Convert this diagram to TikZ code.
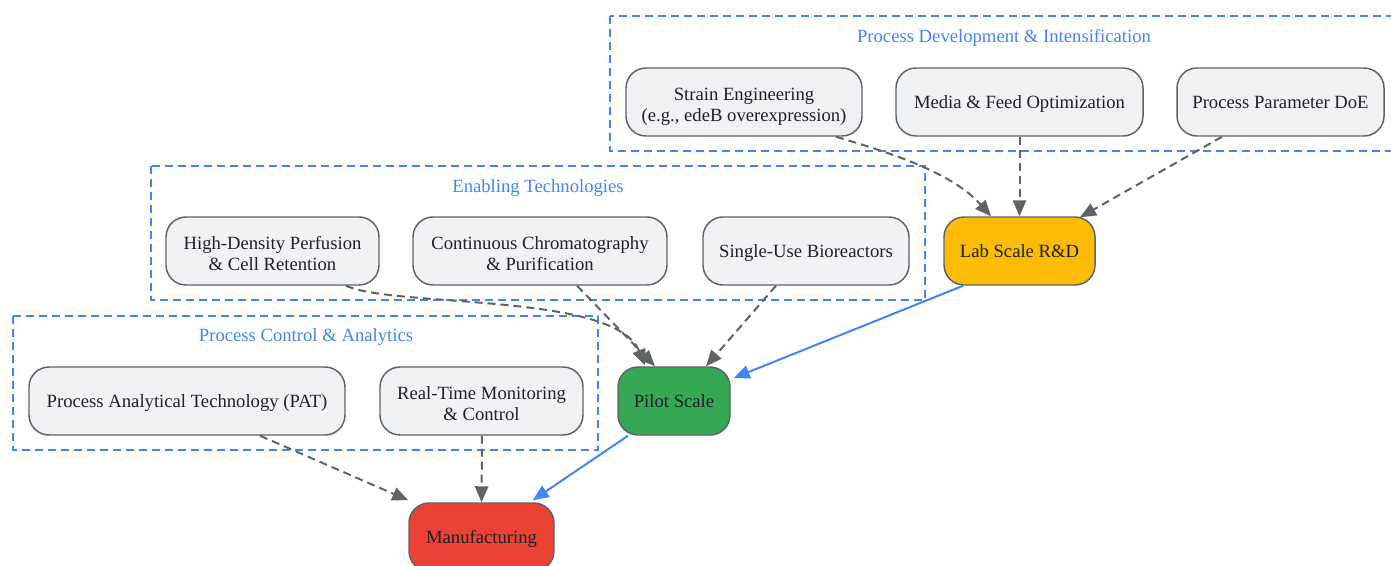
\documentclass[tikz,border=0pt]{standalone}
\usepackage{fontspec}
\setmainfont{Liberation Serif}
\usetikzlibrary{arrows.meta,calc}
\definecolor{nodefill}{HTML}{F1F2F4}
\definecolor{nodeline}{HTML}{5F6368}
\definecolor{gblue}{HTML}{4285F4}
\definecolor{gyellow}{HTML}{FBBC04}
\definecolor{ggreen}{HTML}{34A853}
\definecolor{gred}{HTML}{EA4335}
\definecolor{txt}{HTML}{202124}
\newcommand{\myfirststrut}{\rule{0pt}{16pt}}
\tikzset{
  struts/.style={execute at begin node={\rule{0pt}{13.1pt}},
    execute at end node={\rule[-3.1pt]{0pt}{0pt}}},
  box/.style={draw=nodeline, line width=1.1pt, fill=nodefill, rounded corners=15pt,
    minimum height=51pt, inner sep=2pt, align=center, text=txt, struts,
    font=\fontsize{14pt}{15.75pt}\selectfont},
  cluster/.style={draw=gblue, line width=1.1pt, dash pattern=on 6pt off 3.75pt},
  ctitle/.style={text=gblue, struts, font=\fontsize{14pt}{15.75pt}\selectfont},
  dep/.style={draw=nodeline, line width=1.5pt, dash pattern=on 6pt off 3.75pt,
    -{Triangle[length=12pt,width=10pt]}},
  flow/.style={draw=gblue, line width=1.5pt, -{Triangle[length=12pt,width=10pt]}},
}
\begin{document}
\begin{tikzpicture}[x=0.75pt,y=-0.75pt]
\useasboundingbox (0,0) rectangle (1391,565);
\clip (0,0) rectangle (1391,565);
% clusters
\draw[cluster] (610,16) rectangle (1400,151);
\node[ctitle] (t1) at (1004,36) {Process Development \& Intensification};
\draw[cluster] (151,166) rectangle (925,300);
\node[ctitle] (t2) at (538,186) {Enabling Technologies};
\draw[cluster] (13,316) rectangle (598,450);
\node[ctitle] (t3) at (306,335) {Process Control \& Analytics};
% nodes
\node[box, minimum width=177pt] (se) at (744,102) {\myfirststrut Strain Engineering\\(e.g., edeB overexpression)};
\node[box, minimum width=185.25pt] (mf) at (1019.5,102) {Media \& Feed Optimization};
\node[box, minimum width=155.25pt] (doe) at (1280.5,102) {Process Parameter DoE};
\node[box, minimum width=113.25pt, fill=gyellow] (lab) at (1019.5,251) {Lab Scale R\&D};
\node[box, minimum width=159.75pt] (hd) at (272.5,251) {\myfirststrut High-Density Perfusion\\\& Cell Retention};
\node[box, minimum width=190.5pt] (cc) at (540,251) {\myfirststrut Continuous Chromatography\\\& Purification};
\node[box, minimum width=154.5pt] (su) at (806,251) {Single-Use Bioreactors};
\node[box, minimum width=237pt] (pat) at (187,401) {Process Analytical Technology (PAT)};
\node[box, minimum width=152.25pt] (rt) at (481.5,401) {\myfirststrut Real-Time Monitoring\\\& Control};
\node[box, minimum width=84pt, fill=ggreen] (pilot) at (674,401) {Pilot Scale};
\node[box, minimum width=108.75pt, fill=gred] (mfg) at (481.5,537) {Manufacturing};
% edges
\draw[dep] ($(se.south)+(92,0)$) .. controls (880,150) and (950,170) .. ($(lab.north)+(-28.5,0)$);
\draw[dep] (mf.south) -- (lab.north);
\draw[dep] ($(doe.south)+(-58.5,0)$) -- ($(lab.north)+(60.5,1)$);
\draw[dep] ($(hd.south)+(73.5,0)$) .. controls (395,308) and (615,292) .. ($(pilot.north)+(-29,-1)$);
\draw[dep] ($(cc.south)+(37,0)$) -- ($(pilot.north)+(-19,0)$);
\draw[dep] ($(su.south)+(-30,0)$) -- ($(pilot.north)+(32,0)$);
\draw[flow] ($(lab.south)+(-56.5,0)$) -- ($(pilot.east)+(3,-23)$);
\draw[dep] ($(pat.south)+(73,0)$) -- ($(mfg.north west)+(0,-2)$);
\draw[dep] ($(rt.south)+(0.5,0)$) -- (mfg.north);
\draw[flow] ($(pilot.south)+(-46,0)$) -- ($(mfg.north east)+(-22,-2)$);
\end{tikzpicture}
\end{document}
